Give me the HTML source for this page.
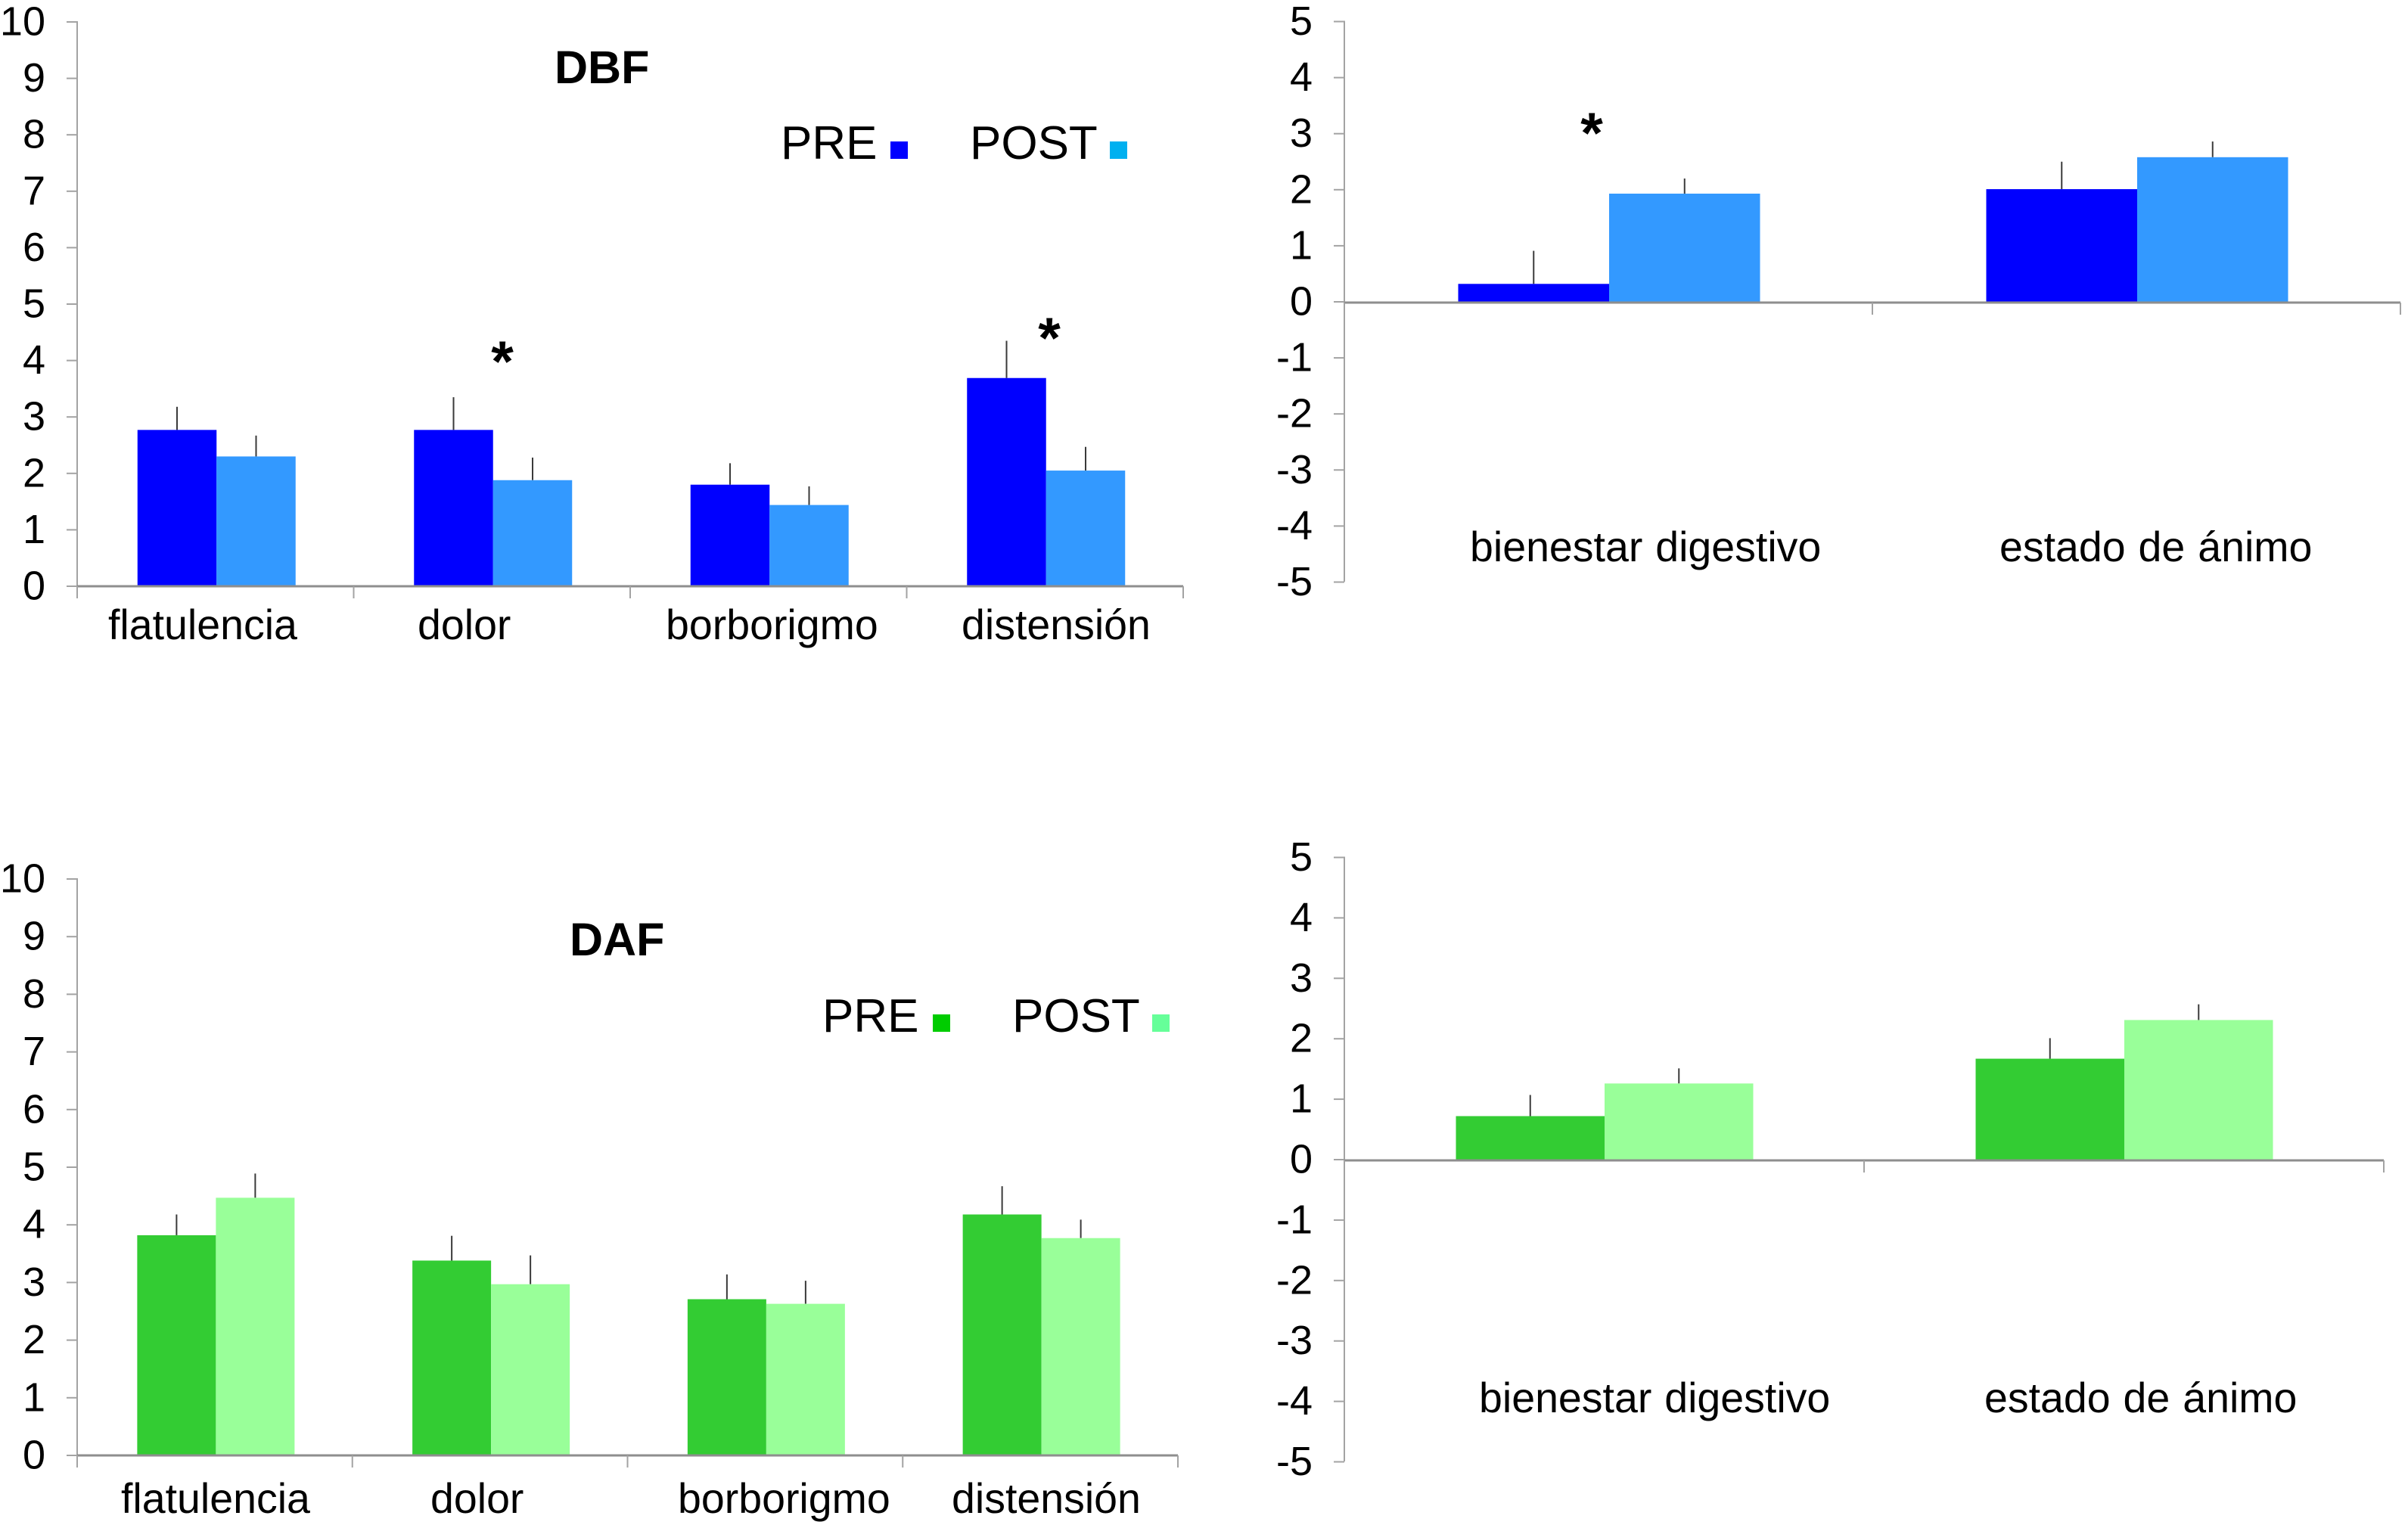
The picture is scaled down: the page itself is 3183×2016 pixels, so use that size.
<!DOCTYPE html>
<html lang="es">
<head>
<meta charset="utf-8">
<title>DBF y DAF: PRE y POST</title>
<style>
  html, body { margin: 0; padding: 0; background: #fff; }
  #figure { display: block; width: 3183px; height: 2016px; background: #fff; }
  text { font-family: "Liberation Sans", Arial, sans-serif; fill: #000; white-space: pre; }
</style>
</head>
<body>
<svg id="figure" xmlns="http://www.w3.org/2000/svg" width="3183" height="2016" viewBox="0 0 3183 2016"></svg>
<script>
// ---- Data: symptom charts ----
const symptomCategories = ['flatulencia', 'dolor', 'borborigmo', 'distensión'];
const wellbeingCategories = ['bienestar digestivo', 'estado de ánimo'];
const symptomTicks = [0, 1, 2, 3, 4, 5, 6, 7, 8, 9, 10];
const wellbeingTicks = [-5, -4, -3, -2, -1, 0, 1, 2, 3, 4, 5];

const dbfSymptomPre = [2.77, 2.77, 1.80, 3.69];
const dbfSymptomPost = [2.30, 1.88, 1.44, 2.05];
const dbfSymptomPreErr = [0.41, 0.58, 0.38, 0.66];
const dbfSymptomPostErr = [0.37, 0.40, 0.33, 0.42];

const dbfWellbeingPre = [0.32, 2.01];
const dbfWellbeingPost = [1.93, 2.58];
const dbfWellbeingPreErr = [0.59, 0.49];
const dbfWellbeingPostErr = [0.27, 0.28];

const dafSymptomPre = [3.82, 3.38, 2.71, 4.18];
const dafSymptomPost = [4.47, 2.97, 2.63, 3.77];
const dafSymptomPreErr = [0.36, 0.43, 0.43, 0.49];
const dafSymptomPostErr = [0.42, 0.50, 0.40, 0.32];

const dafWellbeingPre = [0.72, 1.67];
const dafWellbeingPost = [1.26, 2.31];
const dafWellbeingPreErr = [0.35, 0.34];
const dafWellbeingPostErr = [0.25, 0.26];

const svgNS = 'http://www.w3.org/2000/svg';
const figure = document.getElementById('figure');

function make(tag, attrs, parent) {
  const node = document.createElementNS(svgNS, tag);
  for (const key in attrs) node.setAttribute(key, attrs[key]);
  parent.appendChild(node);
  return node;
}

function drawChart(cfg) {
  const g = make('g', {}, figure);
  
  

  const yScale = v => cfg.yZero - v * cfg.yUnit;
  const band = (cfg.xEnd - cfg.xStart) / cfg.categories.length;
  const xGroup = i => cfg.xStart + band * (i + 0.5) + cfg.groupShift;
  const axisColor = '#a3a3a3';

  // bars and error bars
  cfg.categories.forEach((c, i) => {
    const cx = xGroup(i);
    const preTop = yScale(cfg.pre[i]);
    const postTop = yScale(cfg.post[i]);
    const base = cfg.axisY;

    const preErr = make('line', { x1: cx - cfg.barW / 2, x2: cx - cfg.barW / 2, y1: preTop, y2: yScale(cfg.pre[i] + cfg.preErr[i]), stroke: '#3a3a3a', 'stroke-width': 2 }, g);
    
    

    const postErr = make('line', { x1: cx + cfg.barW / 2, x2: cx + cfg.barW / 2, y1: postTop, y2: yScale(cfg.post[i] + cfg.postErr[i]), stroke: '#3a3a3a', 'stroke-width': 2 }, g);
    
    

    const preBar = make('rect', { x: cx - cfg.barW, y: preTop, width: cfg.barW, height: base - preTop, fill: cfg.preColor }, g);
    
    

    const postBar = make('rect', { x: cx, y: postTop, width: cfg.barW, height: base - postTop, fill: cfg.postColor }, g);
    
    

    const label = make('text', { x: cfg.labelStarts[i], y: cfg.labelY, 'font-size': 55.5, 'word-spacing': 1.5 }, g);
    label.textContent = c;
    
    
  });

  // y axis
  const yAxis = make('line', { x1: cfg.xStart, x2: cfg.xStart, y1: yScale(cfg.ticks[cfg.ticks.length - 1]) - 1, y2: cfg.yAxisBottom, stroke: axisColor, 'stroke-width': 2 }, g);
  
  

  cfg.ticks.forEach(t => {
    const tick = make('line', { x1: cfg.xStart - 14, x2: cfg.xStart, y1: yScale(t), y2: yScale(t), stroke: axisColor, 'stroke-width': 2 }, g);
    
    

    const tickLabel = make('text', { x: cfg.tickLabelX, y: yScale(t) + 17.5, 'font-size': 54, 'text-anchor': 'end' }, g);
    tickLabel.textContent = String(t);
    
    
  });

  // x axis
  const xAxis = make('line', { x1: cfg.xStart, x2: cfg.xEnd, y1: cfg.axisY, y2: cfg.axisY, stroke: '#8e8e8e', 'stroke-width': 3 }, g);
  
  

  for (let i = 0; i <= cfg.categories.length; i++) {
    const tx = cfg.xStart + band * i;
    const xTick = make('line', { x1: tx, x2: tx, y1: cfg.axisY, y2: cfg.axisY + 16, stroke: axisColor, 'stroke-width': 2 }, g);
    
    
  }

  // title
  if (cfg.title) {
    const title = make('text', { x: cfg.title.x, y: cfg.title.y, 'font-size': 61, 'font-weight': 'bold' }, g);
    title.textContent = cfg.title.text;
    
    
  }

  // legend
  if (cfg.legend) {
    const L = cfg.legend;
    const preText = make('text', { x: L.preX, y: L.y, 'font-size': 62 }, g);
    preText.textContent = 'PRE';
    
    

    const preSwatch = make('rect', { x: L.preSwatchX, y: L.y - 23, width: 23, height: 23, fill: L.preColor }, g);
    
    

    const postText = make('text', { x: L.postX, y: L.y, 'font-size': 62 }, g);
    postText.textContent = 'POST';
    
    

    const postSwatch = make('rect', { x: L.postSwatchX, y: L.y - 23, width: 23, height: 23, fill: L.postColor }, g);
    
    
  }

  // significance marks
  (cfg.stars || []).forEach(s => {
    const star = make('text', { x: s.x, y: s.y, 'font-size': 76, 'font-weight': 'bold', 'text-anchor': 'middle' }, g);
    star.textContent = '*';
    
    
  });
}

drawChart({
  categories: symptomCategories, ticks: symptomTicks,
  pre: dbfSymptomPre, post: dbfSymptomPost, preErr: dbfSymptomPreErr, postErr: dbfSymptomPostErr,
  preColor: '#0000ff', postColor: '#3399ff',
  xStart: 102, xEnd: 1564, yZero: 775, yUnit: 74.6, axisY: 775, yAxisBottom: 791,
  barW: 104.5, groupShift: 1.5, tickLabelX: 60,
  labelStarts: [143, 552, 880, 1271], labelY: 845,
  title: { text: 'DBF', x: 733, y: 110 },
  legend: { y: 210, preX: 1032, postX: 1282, preSwatchX: 1177, postSwatchX: 1467, preColor: '#0000ff', postColor: '#00b0f0' },
  stars: [{ x: 664, y: 504 }, { x: 1387, y: 473 }]
});

drawChart({
  categories: wellbeingCategories, ticks: wellbeingTicks,
  pre: dbfWellbeingPre, post: dbfWellbeingPost, preErr: dbfWellbeingPreErr, postErr: dbfWellbeingPostErr,
  preColor: '#0000ff', postColor: '#3399ff',
  xStart: 1777, xEnd: 3173, yZero: 399, yUnit: 74.1, axisY: 400, yAxisBottom: 769,
  barW: 199.5, groupShift: 1, tickLabelX: 1735,
  labelStarts: [1943, 2643], labelY: 742,
  stars: [{ x: 2104, y: 202 }]
});

drawChart({
  categories: symptomCategories, ticks: symptomTicks,
  pre: dafSymptomPre, post: dafSymptomPost, preErr: dafSymptomPreErr, postErr: dafSymptomPostErr,
  preColor: '#33cc33', postColor: '#99ff99',
  xStart: 102, xEnd: 1557, yZero: 1924, yUnit: 76.2, axisY: 1924, yAxisBottom: 1940,
  barW: 104, groupShift: 1.5, tickLabelX: 60,
  labelStarts: [160, 569, 896, 1258], labelY: 2000,
  title: { text: 'DAF', x: 753, y: 1263 },
  legend: { y: 1364, preX: 1087, postX: 1338, preSwatchX: 1233, postSwatchX: 1523, preColor: '#00cc00', postColor: '#66ff99' }
});

drawChart({
  categories: wellbeingCategories, ticks: wellbeingTicks,
  pre: dafWellbeingPre, post: dafWellbeingPost, preErr: dafWellbeingPreErr, postErr: dafWellbeingPostErr,
  preColor: '#33cc33', postColor: '#99ff99',
  xStart: 1777, xEnd: 3151, yZero: 1533, yUnit: 79.9, axisY: 1534, yAxisBottom: 1932,
  barW: 196.5, groupShift: 0.5, tickLabelX: 1735,
  labelStarts: [1955, 2623], labelY: 1867
});
</script>
</body>
</html>
